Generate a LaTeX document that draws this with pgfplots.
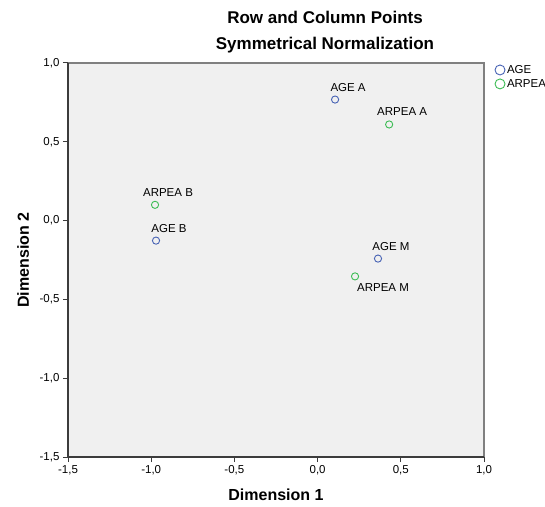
\documentclass[border=0pt]{standalone}
\usepackage{pgfplots}
\pgfplotsset{compat=1.18}
\usepackage{fontspec}
\setmainfont{Liberation Sans}

\definecolor{spssblue}{RGB}{70,98,180}
\definecolor{spssgreen}{RGB}{60,188,84}
\definecolor{plotbg}{RGB}{240,240,240}
\definecolor{axisdark}{RGB}{60,60,60}
\definecolor{axisgray}{RGB}{128,128,128}

\begin{document}
\begin{tikzpicture}
\path[use as bounding box] (0,0) rectangle (545pt,506pt);

% titles
\node[anchor=base,font=\fontsize{17}{19}\selectfont\bfseries] at (325pt,482pt) {Row and Column Points};
\node[anchor=base,font=\fontsize{17}{19}\selectfont\bfseries] at (325pt,456pt) {Symmetrical Normalization};

\begin{axis}[
    at={(68pt,49pt)}, anchor=south west,
    width=416pt, height=394pt, scale only axis,
    xmin=-1.5, xmax=1.0, ymin=-1.5, ymax=1.0,
    xtick={-1.5,-1.0,...,1.0}, ytick={-1.5,-1.0,...,1.0},
    xtick pos=left, ytick pos=left, tick align=outside,
    major tick length=5pt,
    tick style={draw=axisdark, line width=1pt},
    axis line style={draw=none},
    axis background/.style={fill=plotbg},
    clip=false,
    /pgf/number format/.cd, use comma, fixed, fixed zerofill, precision=1, assume math mode=true,
    /pgfplots/.cd,
    tick label style={font=\fontsize{11.5}{13}\selectfont},
    xlabel={Dimension 1}, ylabel={Dimension 2},
    every axis x label/.style={at={(axis description cs:0.5,-0.0965)}, anchor=center,
        font=\fontsize{16}{18}\selectfont\bfseries},
    every axis y label/.style={at={(axis description cs:-0.108,0.5)}, anchor=center, rotate=90,
        font=\fontsize{16}{18}\selectfont\bfseries},
    legend style={at={(axis description cs:1.026,1.0)}, anchor=north west,
        draw=none, fill=none, font=\fontsize{11.5}{13}\selectfont,
        inner sep=0pt, row sep=0.5pt,
        /tikz/every even column/.append style={column sep=2pt}},
    legend cell align=left,
    legend image post style={mark size=5pt},
]

% AGE categories
\addplot[only marks, mark=o, mark size=3.6pt, draw=spssblue, line width=0.9pt] coordinates {
(0.105,0.768) (-0.971,-0.127) (0.363,-0.241)
};
\addlegendentry{AGE}

% ARPEA categories
\addplot[only marks, mark=o, mark size=3.6pt, draw=spssgreen, line width=0.9pt] coordinates {
(0.430,0.610) (-0.977,0.100) (0.225,-0.354)
};
\addlegendentry{ARPEA}

% point labels
\begin{scope}[font=\fontsize{11.5}{13}\selectfont]
\node[xshift=13pt,yshift=12.5pt] at (axis cs:0.105,0.768) {AGE A};
\node[xshift=13pt,yshift=12.5pt] at (axis cs:-0.971,-0.127) {AGE B};
\node[xshift=13pt,yshift=12.5pt] at (axis cs:0.363,-0.241) {AGE M};
\node[xshift=13pt,yshift=12.5pt] at (axis cs:0.430,0.610) {ARPEA A};
\node[xshift=13pt,yshift=12.5pt] at (axis cs:-0.977,0.100) {ARPEA B};
\node[xshift=28pt,yshift=-11.5pt] at (axis cs:0.225,-0.354) {ARPEA M};
\end{scope}

% frame: dark left and bottom, gray top and right
\draw[axisgray, line width=1.4pt] (rel axis cs:0,1) -- (rel axis cs:1,1) -- (rel axis cs:1,0);
\draw[axisdark, line width=1.4pt] (rel axis cs:0,1) -- (rel axis cs:0,0) -- (rel axis cs:1,0);
\end{axis}
\end{tikzpicture}
\end{document}
